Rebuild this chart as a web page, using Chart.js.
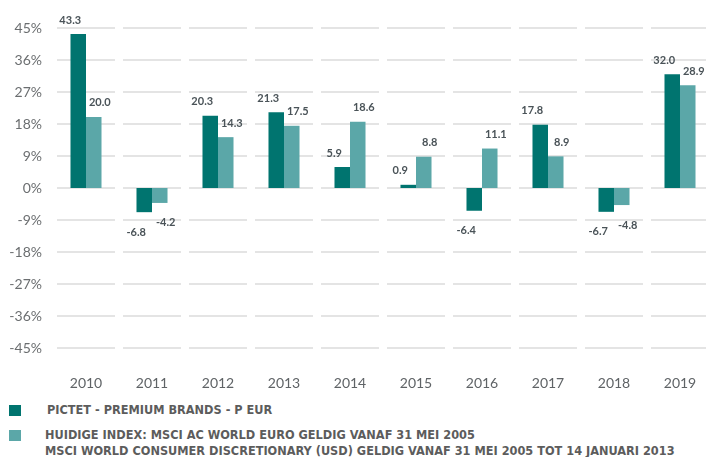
<!DOCTYPE html>
<html>
<head>
<meta charset="utf-8">
<script src="https://cdn.jsdelivr.net/npm/chart.js@4.4.1/dist/chart.umd.min.js"></script>
<style>
  html, body { margin: 0; padding: 0; background: #fff; overflow: hidden; }
  #wrap { position: relative; width: 713px; height: 398px; }
  canvas { display: block; }
  .legend { position: absolute; left: 0; top: 400px; width: 706px;
    font-family: "Liberation Sans Narrow", "DejaVu Sans Condensed", sans-serif;
    font-stretch: condensed; font-weight: bold; font-size: 13px; color: #5c5c5c; }
  .item { position: absolute; left: 9px; }
  .sw { position: absolute; left: 0; width: 12px; height: 11px; }
  .txt { position: absolute; white-space: nowrap; line-height: 16px;
    transform: scaleX(0.97); transform-origin: 0 0; }
</style>
</head>
<body>
<div id="wrap"><canvas id="Chart"></canvas></div>
<div class="legend">
  <div class="item" style="top:5px"><div class="sw" style="background:#00746f"></div>
    <div class="txt" style="left:38px;top:-3px">PICTET - PREMIUM BRANDS - P EUR</div></div>
  <div class="item" style="top:30px"><div class="sw" style="background:#5ba7a8"></div>
    <div class="txt" style="left:36px;top:-3px">HUIDIGE INDEX: MSCI AC WORLD EURO GELDIG VANAF 31 MEI 2005<br>MSCI WORLD CONSUMER DISCRETIONARY (USD) GELDIG VANAF 31 MEI 2005 TOT 14 JANUARI 2013</div></div>
</div>
<script>
  //----- gegevens
  var jaren = ['2010','2011','2012','2013','2014','2015','2016','2017','2018','2019'];
  var fonds = [43.3, -6.8, 20.3, 21.3, 5.9, 0.9, -6.4, 17.8, -6.7, 32.0];
  var index = [20.0, -4.2, 14.3, 17.5, 18.6, 8.8, 11.1, 8.9, -4.8, 28.9];
  var yTicks = [-45, -36, -27, -18, -9, 0, 9, 18, 27, 36, 45];

  // rasterlijnen per jaar, met een kleine opening ertussen
  const gridSegments = {
    id: 'gridSegments',
    beforeDatasetsDraw(c) {
      const x = c.scales.x, y = c.scales.y, ctx = c.ctx;
      const half = x.width / jaren.length / 2 - 4;
      ctx.save();
      ctx.strokeStyle = '#e4e4e4';
      ctx.lineWidth = 2;
      yTicks.forEach(function(t) {
        const py = Math.round(y.getPixelForValue(t));
        for (let i = 0; i < jaren.length; i++) {
          const cx = x.getPixelForValue(i);
          ctx.beginPath();
          ctx.moveTo(cx - half, py);
          ctx.lineTo(cx + half, py);
          ctx.stroke();
        }
      });
      ctx.restore();
    }
  };

  // waardelabels boven / onder de staven
  const valueLabels = {
    id: 'valueLabels',
    afterDatasetsDraw(c) {
      const ctx = c.ctx;
      ctx.save();
      ctx.font = 'bold 11px Lato, sans-serif';
      ctx.fillStyle = '#4a5358';
      ctx.textAlign = 'center';
      ctx.textBaseline = 'middle';
      c.data.datasets.forEach(function(ds, di) {
        c.getDatasetMeta(di).data.forEach(function(bar, i) {
          const v = ds.data[i];
          const dx = di === 0 ? -8 : 6;
          const py = v >= 0 ? bar.y - 14 : bar.y + 20;
          ctx.fillText(v.toFixed(1), bar.x + dx, py);
        });
      });
      ctx.restore();
    }
  };

  const chart = document.getElementById('Chart').getContext('2d');
  const rendement = new Chart(chart, {
    type: 'bar',
    data: {
      labels: jaren,
      datasets: [{
        label: 'PICTET - PREMIUM BRANDS - P EUR',
        data: fonds,
        backgroundColor: '#00746f'
      }, {
        label: 'HUIDIGE INDEX',
        data: index,
        backgroundColor: '#5ba7a8'
      }]
    },
    options: {
      responsive: true,
      maintainAspectRatio: false,
      animation: false,
      datasets: { bar: { barPercentage: 1, categoryPercentage: 0.47 } },
      layout: { padding: { top: 28, bottom: 7, left: 0, right: 0 } },
      plugins: { legend: { display: false }, tooltip: { enabled: false } },
      scales: {
        x: {
          grid: { display: false, drawTicks: false },
          border: { display: false },
          afterFit: function(s) { s.height = 43; s.paddingLeft = 0; s.paddingRight = 0; },
          ticks: { color: '#5f6366', padding: 27, minRotation: 0, maxRotation: 0,
                   font: { family: 'Lato', size: 14 } }
        },
        y: {
          min: -45,
          max: 45,
          grid: { display: false, drawTicks: false },
          border: { display: false },
          afterFit: function(s) { s.width = 53; },
          afterBuildTicks: function(s) { s.ticks = yTicks.map(function(v) { return { value: v }; }); },
          ticks: {
            color: '#6b6e70',
            padding: 11,
            font: { family: 'Lato', size: 14 },
            callback: function(v) { return v + '%'; }
          }
        }
      }
    },
    plugins: [gridSegments, valueLabels]
  });
</script>
</body>
</html>
